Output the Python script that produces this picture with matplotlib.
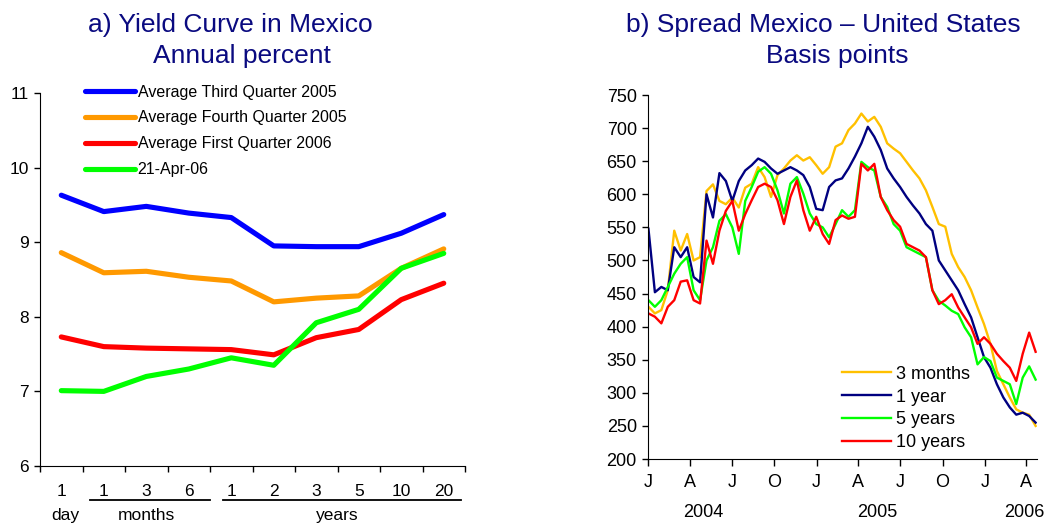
import matplotlib
matplotlib.use('Agg')
import matplotlib.pyplot as plt
import matplotlib.dates as mdates
import matplotlib.transforms as mtransforms
import numpy as np
import pandas as pd

plt.rcParams['font.family'] = ['Liberation Sans', 'DejaVu Sans']

# ---- a) yield curve data ----
maturities = ['1', '1', '3', '6', '1', '2', '3', '5', '10', '20']
q3_2005 = [9.63, 9.41, 9.48, 9.39, 9.33, 8.95, 8.94, 8.94, 9.12, 9.37]
q4_2005 = [8.86, 8.59, 8.61, 8.53, 8.48, 8.20, 8.25, 8.28, 8.65, 8.91]
q1_2006 = [7.73, 7.60, 7.58, 7.57, 7.56, 7.49, 7.72, 7.83, 8.23, 8.45]
apr21_06 = [7.01, 7.00, 7.20, 7.30, 7.45, 7.35, 7.92, 8.10, 8.65, 8.85]
curve_labels = ['Average Third Quarter 2005', 'Average Fourth Quarter 2005',
                'Average First Quarter 2006', '21-Apr-06']
curve_colors = ['#0000FF', '#FF9900', '#FF0000', '#00FF00']

# ---- b) spread data (biweekly readings) ----
spread_dates = pd.date_range('2004-01-02', periods=61, freq='14D')
spread_3m = [430, 420, 425, 455, 545, 515, 540, 500, 505, 605, 615, 590, 585, 595, 580, 610,
             616, 641, 626, 596, 629, 639, 651, 659, 651, 656, 644, 631, 641, 672, 677,
             697, 707, 722, 710, 717, 702, 677, 669, 662, 649, 636, 624, 606, 581, 555, 551,
             510, 490, 475, 455, 429, 404, 374, 333, 313, 293, 275, 270, 267, 250]
spread_1y = [548, 452, 460, 455, 520, 505, 520, 475, 467, 600, 565, 632, 620, 590, 620, 636,
             644, 654, 649, 639, 631, 636, 641, 636, 629, 611, 578, 576, 611, 621, 624,
             639, 657, 677, 702, 687, 667, 639, 624, 611, 596, 583, 571, 555, 545, 500, 485,
             470, 455, 434, 414, 384, 354, 338, 313, 293, 278, 267, 270, 265, 255]
spread_5y = [440, 430, 440, 460, 480, 495, 505, 455, 440, 500, 520, 560, 570, 550, 510, 590,
             611, 634, 641, 631, 606, 571, 616, 626, 601, 571, 555, 550, 535, 555, 576,
             566, 576, 649, 641, 636, 596, 581, 555, 545, 520, 515, 510, 505, 455, 439, 432,
             424, 419, 399, 384, 343, 354, 348, 323, 318, 313, 283, 323, 340, 320]
spread_10y = [420, 415, 405, 430, 440, 468, 470, 440, 435, 530, 495, 545, 575, 590, 545, 570,
              591, 611, 616, 611, 591, 555, 596, 621, 576, 545, 566, 540, 525, 561, 568,
              563, 566, 646, 636, 646, 596, 576, 561, 551, 525, 520, 515, 505, 455, 434, 440,
              449, 429, 414, 399, 374, 384, 374, 359, 348, 338, 318, 359, 391, 362]
spread_labels = ['3 months', '1 year', '5 years', '10 years']
spread_colors = ['#FFC000', '#000080', '#00FF00', '#FF0000']
month_letters = ['J', 'A', 'J', 'O', 'J', 'A', 'J', 'O', 'J', 'A']

title_color = '#0A0A80'

fig = plt.figure(figsize=(10.48, 5.25), dpi=100)

# ================= panel a =================
ax1 = fig.add_axes([0.0382, 0.1124, 0.4055, 0.7105])
xpos = np.arange(len(maturities))
for vals, lab, col in zip([q3_2005, q4_2005, q1_2006, apr21_06], curve_labels, curve_colors):
    ax1.plot(xpos, vals, color=col, lw=3.7, label=lab, solid_capstyle='round',
             solid_joinstyle='round')
ax1.set_xlim(-0.5, 9.5)
ax1.set_ylim(6, 11)
ax1.set_yticks(range(6, 12))
ax1.set_xticks(np.arange(-0.5, 10, 1))
ax1.set_xticklabels([])
ax1.set_xticks(xpos, minor=True)
ax1.set_xticklabels(maturities, minor=True, fontsize=12.5)
ax1.tick_params(axis='x', which='minor', length=0, pad=13)
ax1.tick_params(axis='x', which='major', direction='out', length=4.5, width=1)
ax1.tick_params(axis='y', direction='out', length=4, width=1, labelsize=12.5, pad=4)
for s in ['top', 'right']:
    ax1.spines[s].set_visible(False)

trans1 = mtransforms.blended_transform_factory(ax1.transData, ax1.transAxes)
ax1.plot([0.68, 3.5], [-0.091, -0.091], color='black', lw=1.3, transform=trans1, clip_on=False)
ax1.plot([3.8, 9.4], [-0.091, -0.091], color='black', lw=1.3, transform=trans1, clip_on=False)
ax1.text(0.1, -0.133, 'day', transform=trans1, ha='center', va='center', fontsize=12.5)
ax1.text(2.0, -0.133, 'months', transform=trans1, ha='center', va='center', fontsize=12.5)
ax1.text(6.5, -0.133, 'years', transform=trans1, ha='center', va='center', fontsize=12.5)

fig.legend(*ax1.get_legend_handles_labels(), loc='upper left',
           bbox_to_anchor=(0.0811, 0.839), frameon=False, fontsize=11.5,
           handlelength=3.1, handletextpad=0.2, labelspacing=0.68,
           borderpad=0, borderaxespad=0)

fig.text(230 / 1048, 1 - 32 / 525, 'a) Yield Curve in Mexico', ha='center', va='baseline',
         fontsize=19, color=title_color)
fig.text(242 / 1048, 1 - 63 / 525, 'Annual percent', ha='center', va='baseline',
         fontsize=19, color=title_color)

# ================= panel b =================
ax2 = fig.add_axes([0.6183, 0.1257, 0.3712, 0.6933])
for vals, lab, col in zip([spread_3m, spread_1y, spread_5y, spread_10y], spread_labels, spread_colors):
    ax2.plot(spread_dates, vals, color=col, lw=1.7, label=lab)
ax2.set_xlim(pd.Timestamp('2004-01-01'), pd.Timestamp('2006-04-24'))
ax2.set_ylim(200, 750)
ax2.set_yticks(range(200, 751, 50))
qticks = pd.date_range('2004-01-01', periods=10, freq='QS')
ax2.set_xticks(qticks)
ax2.set_xticklabels(month_letters, fontsize=13)
ax2.tick_params(axis='x', direction='out', length=5, width=1, pad=6)
ax2.tick_params(axis='y', direction='out', length=4, width=1, labelsize=13, pad=4)
for s in ['top', 'right']:
    ax2.spines[s].set_visible(False)

trans2 = mtransforms.blended_transform_factory(ax2.transData, ax2.transAxes)
year_pos = [('2004', '2004-04-30'), ('2005', '2005-05-12'), ('2006', '2006-03-27')]
for yr, d in year_pos:
    ax2.text(mdates.date2num(pd.Timestamp(d)), -0.148, yr, transform=trans2,
             ha='center', va='center', fontsize=13)

fig.legend(*ax2.get_legend_handles_labels(), loc='upper left',
           bbox_to_anchor=(0.8034, 0.3033), frameon=False, fontsize=13,
           handlelength=2.7, handletextpad=0.28, labelspacing=0.32,
           borderpad=0, borderaxespad=0)

fig.text(823.5 / 1048, 1 - 32 / 525, 'b) Spread Mexico \u2013 United States', ha='center',
         va='baseline', fontsize=19, color=title_color)
fig.text(837.5 / 1048, 1 - 63 / 525, 'Basis points', ha='center', va='baseline',
         fontsize=19, color=title_color)

fig.savefig('out.png', dpi=100)
